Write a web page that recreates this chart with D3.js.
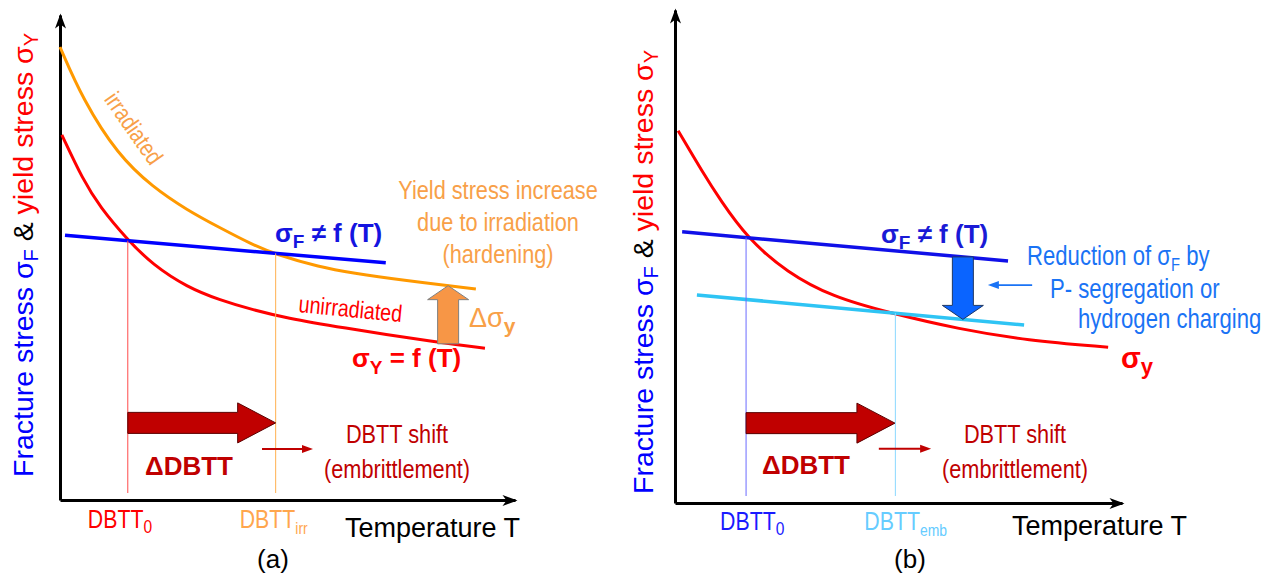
<!DOCTYPE html>
<html>
<head>
<meta charset="utf-8">
<script src="https://cdn.jsdelivr.net/npm/d3@7"></script>
<style>
  html, body { margin: 0; padding: 0; background: #fff; }
  svg { display: block; }
  text { font-family: "Liberation Sans", Arial, sans-serif; }
</style>
</head>
<body>
<svg id="chart" width="1273" height="576"></svg>
<script>
// ---------------- data (temperature T, stress σ) in arbitrary units 0..100 ----------------
// Panel (a): irradiation hardening
const yieldUnirradiatedA = [[0.4,75.3],[5.05,66.0],[8.8,60.4],[14.9,53.6],[20.4,48.5],[27.9,43.9],[35.2,41.2],[42.4,39.2],[49.9,37.5],[60.9,35.7],[83.5,32.4],[93.4,31.3]];
const yieldIrradiatedA   = [[0,93.4],[5.05,82.5],[12.75,71.1],[20.4,64.5],[27.9,59.8],[35.2,56.1],[42.4,52.6],[47.3,50.7],[57.1,48.0],[64.4,46.8],[74.7,45.4],[91.4,43.5]];
const fractureA          = [[1.1,54.6],[71.6,48.9]];
const dbttA              = [14.9, 47.4];          // DBTT0, DBTTirr
const deltaSigmaT_A      = 85.3;                  // where Δσy is shown
const shiftArrowA        = { t0: 14.9, t1: 47.4, s: 15.9 };
const smallArrowA        = { t0: 44.4, t1: 55.6, s: 10.5 };

// Panel (b): embrittlement by lowering the fracture stress
const yieldB             = [[0.7,75.5],[6.3,66.9],[10.1,61.5],[16.1,53.8],[25.1,46.7],[35.3,41.8],[47.4,38.7],[63.8,35.2],[78.7,33.0],[96.9,31.6]];
const fractureB          = [[1.6,55.0],[74.5,49.1]];
const fractureReducedB   = [[4.9,42.2],[78.1,36.1]];
const dbttB              = [15.9, 49.3];          // DBTT0, DBTTemb
const reductionT_B       = 64.4;                  // where the σF reduction is shown
const shiftArrowB        = { t0: 15.9, t1: 49.2, s: 16.2 };
const smallArrowB        = { t0: 45.6, t1: 57.3, s: 11.0 };
const pointerB           = { t0: 79.9, t1: 70.0, s: 44.2 };

// ---------------- colours ----------------
const C = {
  red: "#ff0000", darkRed: "#c00000", orange: "#ff9900", orangeText: "#f8a048",
  blue: "#0000ff", blueText: "#1414e0", cyan: "#2ec4f4", lightBlue: "#1a73f5"
};
const NARROW = 0.82;   // horizontal squeeze for the condensed annotation face

const svg = d3.select("#chart");

const pa = { x: d3.scaleLinear().domain([0,100]).range([60,515]),
             y: d3.scaleLinear().domain([0,100]).range([500,15]) };
const pb = { x: d3.scaleLinear().domain([0,100]).range([675,1122]),
             y: d3.scaleLinear().domain([0,100]).range([503,10]) };

// stealth arrowhead for the axes
const defs = svg.append("defs");
defs.append("marker").attr("id","axisHead")
  .attr("markerUnits","userSpaceOnUse").attr("viewBox","-16 -7 18 14")
  .attr("markerWidth",18).attr("markerHeight",14).attr("refX",-2).attr("refY",0)
  .attr("orient","auto")
  .append("path").attr("d","M0,0 L-15,-5.5 L-11,0 L-15,5.5 Z").attr("fill","#000");

function interp(pts, t) {
  for (let i = 0; i < pts.length - 1; i++) {
    const [t0,s0] = pts[i], [t1,s1] = pts[i+1];
    if (t >= t0 && t <= t1) return s0 + (s1 - s0) * (t - t0) / (t1 - t0);
  }
  const a = pts[pts.length-2], b = pts[pts.length-1];
  return a[1] + (b[1]-a[1]) * (t - a[0]) / (b[0]-a[0]);
}

function drawAxes(p) {
  const gx = svg.append("g").attr("transform", `translate(0,${p.y(0)})`)
    .call(d3.axisBottom(p.x).tickValues([]).tickSizeOuter(0));
  gx.select(".domain").attr("stroke","#000").attr("stroke-width",3).attr("marker-end","url(#axisHead)");
  const gy = svg.append("g").attr("transform", `translate(${p.x(0)},0)`)
    .call(d3.axisLeft(p.y).tickValues([]).tickSizeOuter(0));
  gy.select(".domain").attr("stroke","#000").attr("stroke-width",3).attr("marker-end","url(#axisHead)");
}

function curve(p, pts, color, w) {
  const line = d3.line().x(d => p.x(d[0])).y(d => p.y(d[1])).curve(d3.curveBasis);
  svg.append("path").datum(pts).attr("d", line).attr("fill","none")
    .attr("stroke", color).attr("stroke-width", w).attr("stroke-linecap","butt");
}

function dropLine(p, t, s, color) {
  svg.append("line").attr("x1", p.x(t)).attr("x2", p.x(t))
    .attr("y1", p.y(s)).attr("y2", p.y(0) - 7)
    .attr("stroke", color).attr("stroke-width", 1);
}

// thick block arrow pointing right
function blockArrowRight(p, a, fill, stroke) {
  const x0 = p.x(a.t0), x1 = p.x(a.t1), yc = p.y(a.s);
  const bh = 10.5, hh = 20, hl = 38;
  const pts = [[x0,yc-bh],[x1-hl,yc-bh],[x1-hl,yc-hh],[x1,yc],[x1-hl,yc+hh],[x1-hl,yc+bh],[x0,yc+bh]];
  svg.append("polygon").attr("points", pts.map(d => d.join(",")).join(" "))
    .attr("fill", fill).attr("stroke", stroke).attr("stroke-width", 1);
}

// thick block arrow, vertical, from value s0 to s1 at temperature t
function blockArrowVertical(p, t, s0, s1, fill, stroke) {
  const xc = p.x(t), y0 = p.y(s0), y1 = p.y(s1);
  const dir = y1 < y0 ? -1 : 1;
  const bw = 10.5, hw = 20.5, hl = 14;
  const yb = y1 - dir * hl;
  const pts = [[xc-bw,y0],[xc-bw,yb],[xc-hw,yb],[xc,y1],[xc+hw,yb],[xc+bw,yb],[xc+bw,y0]];
  svg.append("polygon").attr("points", pts.map(d => d.join(",")).join(" "))
    .attr("fill", fill).attr("stroke", stroke).attr("stroke-width", 1);
}

// thin arrow with a small filled head
function thinArrow(p, a, color, w) {
  const x0 = p.x(a.t0), x1 = p.x(a.t1), y = p.y(a.s);
  const dir = x1 > x0 ? 1 : -1;
  const hl = 11, hw = 4;
  svg.append("line").attr("x1", x0).attr("x2", x1 - dir*hl*0.6).attr("y1", y).attr("y2", y)
    .attr("stroke", color).attr("stroke-width", w);
  svg.append("polygon")
    .attr("points", [[x1,y],[x1-dir*hl,y-hw],[x1-dir*hl,y+hw]].map(d => d.join(",")).join(" "))
    .attr("fill", color);
}

// text with optional subscripts: parts = [{t, sub, size, weight, fill, dy}]
// placed at (x,y), optionally rotated and/or horizontally condensed
function richText(parent, x, y, parts, base) {
  let tf = `translate(${x},${y})`;
  if (base.rotate) tf += ` rotate(${base.rotate})`;
  if (base.narrow) tf += ` scale(${NARROW},1)`;
  const g = parent.append("g").attr("transform", tf);
  const t = g.append("text").attr("x", 0).attr("y", 0)
    .attr("font-size", base.size).attr("font-weight", base.weight || "normal")
    .attr("fill", base.fill || "#000").attr("text-anchor", base.anchor || "start");
  let cur = 0;
  parts.forEach(p => {
    const target = p.sub ? (p.dy != null ? p.dy : Math.round(base.size * 0.22)) : 0;
    const ts = t.append("tspan").text(p.t);
    if (target !== cur) ts.attr("dy", target - cur);
    cur = target;
    if (p.size) ts.attr("font-size", p.size);
    if (p.weight) ts.attr("font-weight", p.weight);
    if (p.fill) ts.attr("fill", p.fill);
  });
  return t;
}
const plain = (parent, x, y, s, base) => richText(parent, x, y, [{ t: s }], base);

function yLabel(cx, cy) {
  richText(svg, cx, cy, [
    { t: "Fracture stress ", fill: C.blue },
    { t: "σ", fill: C.blue },
    { t: "F", sub: true, size: 20, dy: 5, fill: C.blue },
    { t: " & ", fill: "#000" },
    { t: "yield stress ", fill: C.red },
    { t: "σ", fill: C.red },
    { t: "Y", sub: true, size: 20, dy: 5, fill: C.red }
  ], { size: 28.5, anchor: "middle", rotate: -90 });
}

// ======================= panel (a) =======================
drawAxes(pa);
curve(pa, yieldIrradiatedA, C.orange, 3);
curve(pa, yieldUnirradiatedA, C.red, 3);
curve(pa, fractureA, C.blue, 3.5);
dropLine(pa, dbttA[0], interp(fractureA, dbttA[0]), "#ff4a4a");
dropLine(pa, dbttA[1], interp(fractureA, dbttA[1]), "#ffb050");
blockArrowRight(pa, shiftArrowA, C.darkRed, "#5a0000");
thinArrow(pa, smallArrowA, C.darkRed, 2);
blockArrowVertical(pa, deltaSigmaT_A, interp(yieldUnirradiatedA, deltaSigmaT_A),
                   interp(yieldIrradiatedA, deltaSigmaT_A), "#f79646", "#7f7f7f");

yLabel(33, 255);

const ga = svg.append("g");
plain(ga, 127, 133, "irradiated", { size: 24, fill: C.orangeText, anchor: "middle", rotate: 55, narrow: true });
richText(ga, 275, 242, [{t:"σ"},{t:"F",sub:true,size:19,dy:6},{t:" ≠ f (T)"}],
  { size: 26, weight: "bold", fill: C.blueText });
[["Yield stress increase",199],["due to irradiation",231],["(hardening)",263]].forEach(([s,y]) =>
  plain(ga, 498, y, s, { size: 26.5, fill: C.orangeText, anchor: "middle", narrow: true }));
plain(ga, 298, 312, "unirradiated", { size: 24, fill: C.red, rotate: 5.6, narrow: true });
richText(ga, 352, 367, [{t:"σ"},{t:"Y",sub:true,size:19,dy:7},{t:" = f (T)"}],
  { size: 26, weight: "bold", fill: C.red });
richText(ga, 469, 327, [{t:"Δσ",weight:"normal"},{t:"y",sub:true,size:21,dy:6}],
  { size: 27, weight: "bold", fill: C.orangeText });
plain(ga, 145, 475, "ΔDBTT", { size: 26, weight: "bold", fill: C.darkRed });
[["DBTT shift",443],["(embrittlement)",478]].forEach(([s,y]) =>
  plain(ga, 397, y, s, { size: 26.5, fill: C.darkRed, anchor: "middle", narrow: true }));
richText(ga, pa.x(dbttA[0]) - 40, 528, [{t:"DBTT"},{t:"0",sub:true,size:19,dy:5}],
  { size: 26, fill: C.red, narrow: true });
richText(ga, pa.x(dbttA[1]) - 36, 528, [{t:"DBTT"},{t:"irr",sub:true,size:17,dy:6}],
  { size: 26, fill: "#ffa64d", narrow: true });
plain(ga, 345, 537, "Temperature T", { size: 27, fill: "#000" });
plain(ga, 273, 568, "(a)", { size: 26, fill: "#000", anchor: "middle" });

// ======================= panel (b) =======================
drawAxes(pb);
curve(pb, yieldB, C.red, 3);
curve(pb, fractureB, "#1010e8", 3.5);
curve(pb, fractureReducedB, C.cyan, 3.5);
dropLine(pb, dbttB[0], interp(fractureB, dbttB[0]), "#6a6aff");
dropLine(pb, dbttB[1], interp(fractureReducedB, dbttB[1]), "#8ad8ff");
blockArrowRight(pb, shiftArrowB, C.darkRed, "#5a0000");
thinArrow(pb, smallArrowB, C.darkRed, 2);
blockArrowVertical(pb, reductionT_B, interp(fractureB, reductionT_B),
                   interp(fractureReducedB, reductionT_B), "#0a64ff", "#1f3864");
thinArrow(pb, pointerB, C.lightBlue, 1.6);

yLabel(653, 272);

const gb = svg.append("g");
richText(gb, 881, 243, [{t:"σ"},{t:"F",sub:true,size:19,dy:6},{t:" ≠ f (T)"}],
  { size: 26, weight: "bold", fill: "#1a1ad6" });
richText(gb, 1027, 265, [{t:"Reduction of σ"},{t:"F",sub:true,size:18,dy:6},{t:" by"}],
  { size: 27, fill: C.lightBlue, narrow: true });
plain(gb, 1050, 298, "P- segregation or", { size: 27, fill: C.lightBlue, narrow: true });
plain(gb, 1078, 328, "hydrogen charging", { size: 27, fill: C.lightBlue, narrow: true });
richText(gb, 1121, 368, [{t:"σ"},{t:"y",sub:true,size:22,dy:6}],
  { size: 29, weight: "bold", fill: C.red });
plain(gb, 762, 474, "ΔDBTT", { size: 26, weight: "bold", fill: C.darkRed });
[["DBTT shift",443],["(embrittlement)",478]].forEach(([s,y]) =>
  plain(gb, 1015, y, s, { size: 26.5, fill: C.darkRed, anchor: "middle", narrow: true }));
richText(gb, pb.x(dbttB[0]) - 26, 530, [{t:"DBTT"},{t:"0",sub:true,size:19,dy:5}],
  { size: 26, fill: "#1a1aff", narrow: true });
richText(gb, pb.x(dbttB[1]) - 31, 530, [{t:"DBTT"},{t:"emb",sub:true,size:17,dy:6}],
  { size: 26, fill: "#66ccff", narrow: true });
plain(gb, 1012, 535, "Temperature T", { size: 27, fill: "#000" });
plain(gb, 910, 568, "(b)", { size: 26, fill: "#000", anchor: "middle" });
</script>
</body>
</html>
